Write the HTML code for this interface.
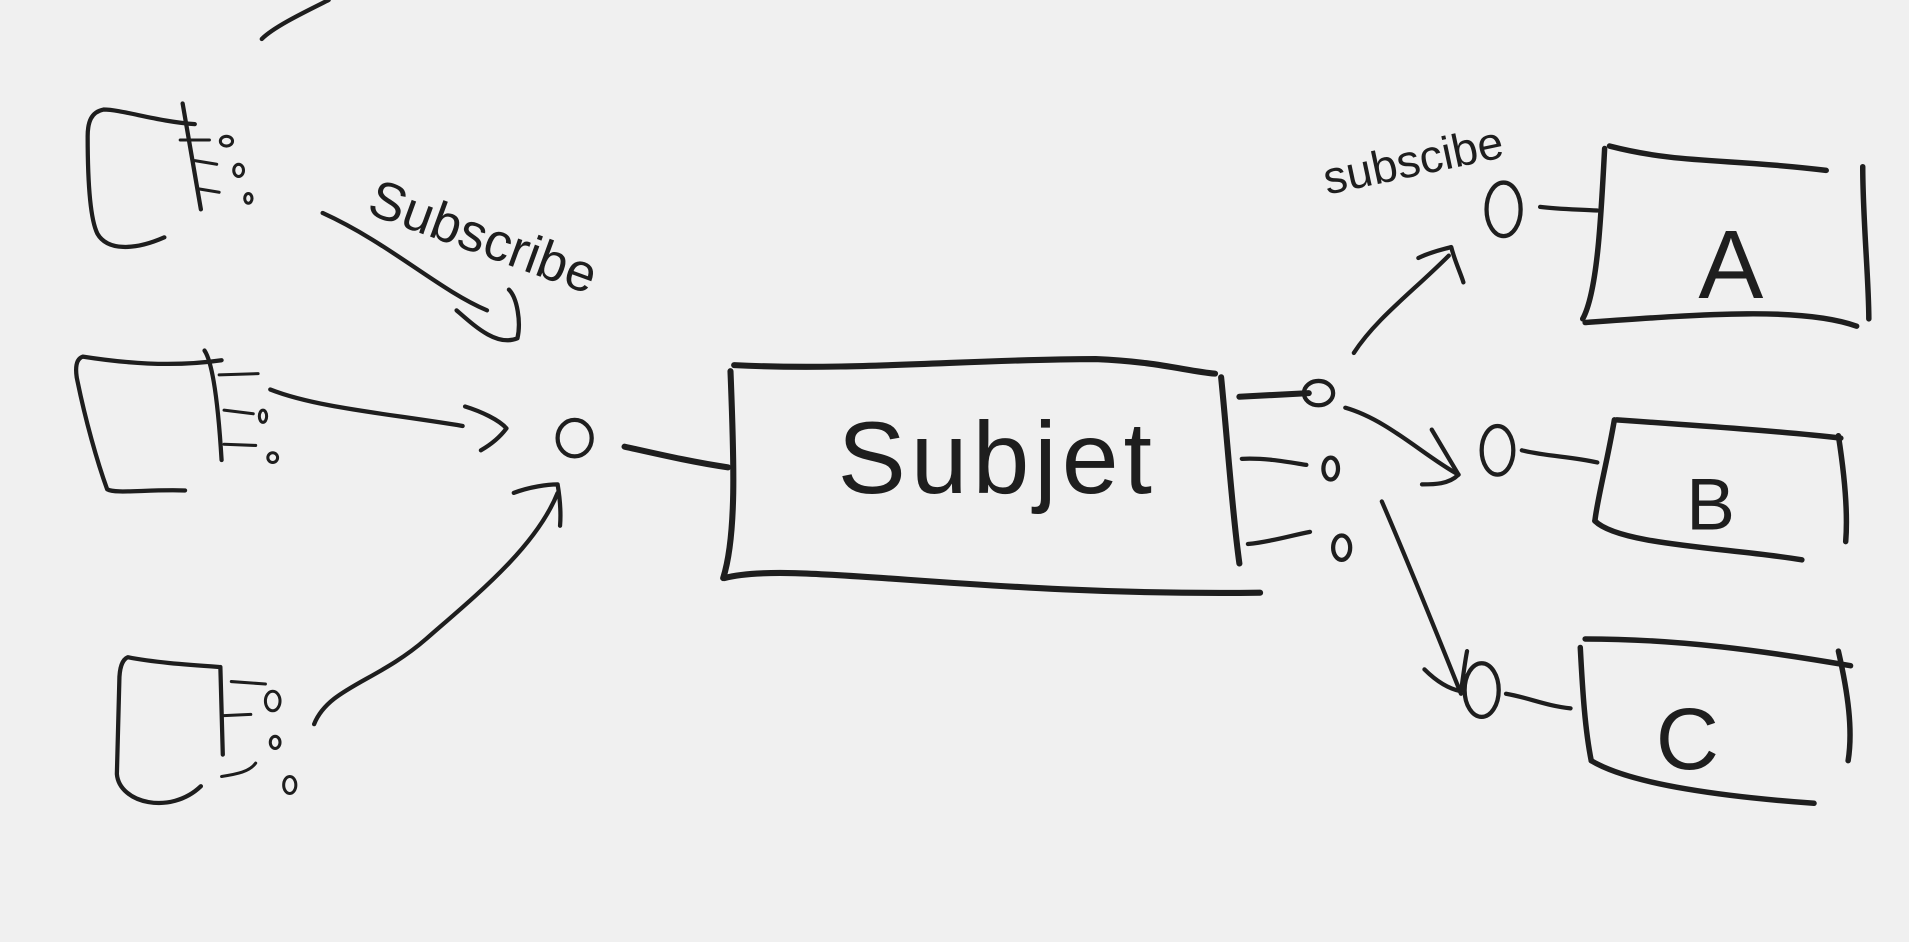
<!DOCTYPE html>
<html><head><meta charset="utf-8"><style>
html,body{margin:0;padding:0;background:#f0f0f0;width:1909px;height:942px;overflow:hidden}
svg{display:block}
path,line,ellipse{fill:none;stroke:#1e1e1e;stroke-linecap:round;stroke-linejoin:round}
text{font-family:"Liberation Sans",sans-serif;fill:#1e1e1e}
</style></head><body>
<svg width="1909" height="942" viewBox="0 0 1568 774" preserveAspectRatio="none">
<g stroke-width="3.5">
<!-- top fragment -->
<path d="M215,32 C225,22 250,10 270,0"/>
<!-- left box 1 -->
<path d="M160,102 C130,100 100,90 85,90 C75,92 72,100 72,112 C72,150 74,180 80,192 C88,206 110,206 135,195"/>
<path d="M150,85 L165,172"/>
<path d="M148,115 L172,115 M160,132 L178,135 M162,155 L180,158" stroke-width="2.5"/>
<ellipse cx="186" cy="116" rx="5" ry="4" stroke-width="2.5"/><ellipse cx="196" cy="140" rx="4" ry="5" stroke-width="2.5"/><ellipse cx="204" cy="163" rx="3" ry="4" stroke-width="2.5"/>
<!-- left box 2 -->
<path d="M182,296 C140,302 100,298 68,293 C62,295 62,303 63,310 C70,345 80,380 88,402 C95,406 120,402 152,403"/>
<path d="M168,288 C176,300 180,345 182,378"/>
<path d="M180,308 L212,307 M184,337 L208,340 M184,365 L210,366" stroke-width="2.5"/>
<ellipse cx="216" cy="342" rx="3" ry="5" stroke-width="2.5"/><ellipse cx="224" cy="376" rx="4" ry="4" stroke-width="2.5"/>
<!-- left box 3 -->
<path d="M180,548 C150,546 125,544 105,540 C100,542 98,550 98,560 L96,636 C98,660 140,670 165,646"/>
<path d="M181,548 L183,620"/>
<path d="M190,560 L218,562 M184,588 L206,587 M182,638 C195,636 205,634 210,627" stroke-width="2.5"/>
<ellipse cx="224" cy="576" rx="6" ry="8" stroke-width="2.5"/><ellipse cx="226" cy="610" rx="4" ry="5" stroke-width="2.5"/><ellipse cx="238" cy="645" rx="5" ry="7" stroke-width="2.5"/>
<!-- arrows to left circle -->
<path d="M222,320 C260,335 320,340 380,350"/>
<path d="M382,334 C395,338 410,345 416,352 C410,360 402,366 395,370"/>
<ellipse cx="472" cy="360" rx="14" ry="15"/>
<path d="M258,595 C270,565 310,560 350,525 C390,490 440,450 458,405"/>
<path d="M422,405 C435,400 450,398 458,398 C460,410 461,420 460,432"/>
<path d="M513,367 C540,373 570,380 598,384" stroke-width="5"/>
<!-- subscribe left -->
<path d="M265,175 C320,200 360,238 400,255"/>
<path d="M375,255 C390,268 408,285 425,278 C428,265 425,245 418,238"/>
</g>
<text x="300" y="175" font-size="44" transform="rotate(20 300 175)">Subscribe</text>
<!-- subject box -->
<g stroke-width="5">
<path d="M603,300 C700,305 800,295 900,295 C950,297 975,305 998,307"/>
<path d="M1003,310 C1008,360 1012,420 1018,463"/>
<path d="M595,475 C650,460 800,490 1035,487"/>
<path d="M600,305 C603,380 605,440 594,475"/>
</g>
<text x="688" y="405" font-size="84" letter-spacing="4">Subjet</text>
<g stroke-width="3.5">
<path d="M1018,326 L1075,323" stroke-width="5"/><ellipse cx="1083" cy="323" rx="12" ry="10"/>
<path d="M1020,377 C1040,376 1060,380 1073,382"/><ellipse cx="1093" cy="385" rx="6" ry="9"/>
<path d="M1025,447 C1045,445 1060,440 1076,437"/><ellipse cx="1102" cy="450" rx="7" ry="10"/>
<!-- arrow to A -->
<path d="M1112,290 C1130,262 1160,240 1190,210"/>
<path d="M1165,212 C1175,207 1185,205 1192,203 C1195,215 1200,225 1202,232"/>
<ellipse cx="1235" cy="172" rx="14" ry="22"/>
<path d="M1265,170 C1280,172 1295,172 1312,173"/>
<!-- arrow to B -->
<path d="M1105,335 C1140,345 1170,375 1198,390"/>
<path d="M1176,353 L1198,390 C1190,398 1178,398 1168,398"/>
<ellipse cx="1230" cy="370" rx="13" ry="20"/>
<path d="M1250,370 C1270,375 1290,375 1312,380"/>
<!-- arrow to C -->
<path d="M1135,412 C1160,470 1180,520 1200,570"/>
<path d="M1170,550 C1180,560 1190,566 1200,568 C1202,555 1203,545 1205,535"/>
<ellipse cx="1217" cy="567" rx="14" ry="22"/>
<path d="M1237,570 C1255,573 1270,580 1290,582"/>
</g>
<text x="1090" y="160" font-size="38" transform="rotate(-12 1090 160)">subscibe</text>
<g stroke-width="4.5">
<!-- box A -->
<path d="M1322,120 C1380,135 1420,130 1500,140"/>
<path d="M1530,137 C1530,180 1535,230 1535,262"/>
<path d="M1302,265 C1400,258 1480,252 1525,268"/>
<path d="M1318,122 C1315,180 1312,240 1300,262"/>
<!-- box B -->
<path d="M1328,345 C1400,350 1470,355 1512,360"/>
<path d="M1510,358 C1515,390 1518,420 1516,445"/>
<path d="M1310,428 C1330,448 1420,450 1480,460"/>
<path d="M1326,345 C1320,380 1312,410 1310,428"/>
<!-- box C -->
<path d="M1302,525 C1380,525 1450,535 1520,547"/>
<path d="M1510,535 C1518,570 1522,600 1518,625"/>
<path d="M1307,625 C1340,645 1420,655 1490,660"/>
<path d="M1298,532 C1300,570 1302,600 1307,625"/>
</g>
<text x="1395" y="245" font-size="80">A</text>
<text x="1385" y="435" font-size="60">B</text>
<text x="1360" y="632" font-size="72">C</text>
</svg>
</body></html>
